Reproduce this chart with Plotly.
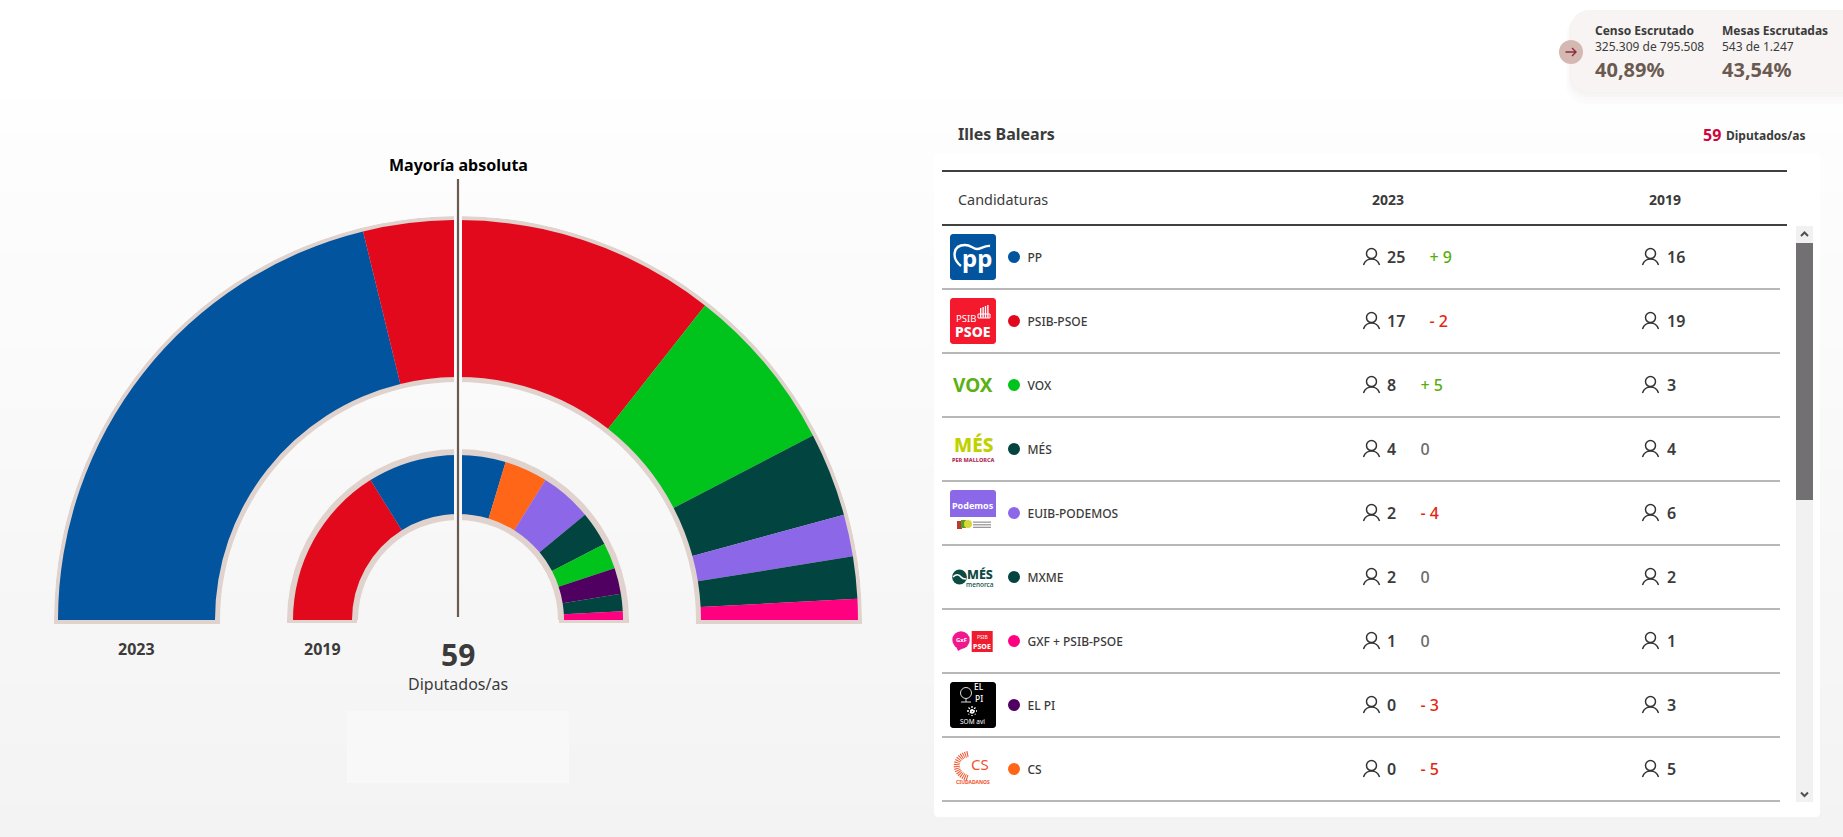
import plotly.graph_objects as go

# ---------- data ----------
CANDIDATURAS = ["PP", "PSIB-PSOE", "VOX", "MÉS", "EUIB-PODEMOS", "MXME", "GXF + PSIB-PSOE", "EL PI", "CS"]
SEATS_2023 = [25, 17, 8, 4, 2, 2, 1, 0, 0]
SEATS_2019 = [16, 19, 3, 4, 6, 2, 1, 3, 5]
PARTY_COLORS = ["#02549f", "#e2091c", "#00c31b", "#024440", "#8c68e8", "#024440", "#ff0080", "#4f0060", "#ff6618"]
ORDER_2023 = ["PP", "PSIB-PSOE", "VOX", "MÉS", "EUIB-PODEMOS", "MXME", "GXF + PSIB-PSOE"]
ORDER_2019 = ["PSIB-PSOE", "PP", "CS", "EUIB-PODEMOS", "MÉS", "VOX", "EL PI", "MXME", "GXF + PSIB-PSOE"]
TOTAL_SEATS = 59

FONT = "Noto Sans"
INK = "#3b3b3b"
W, H = 1843, 837
CX, CY = 458, 620

shapes, annotations = [], []


def bg(y):
    t = max(0.0, min(1.0, (y - 100) / (H - 100)))
    v = round(254 - t * 11)
    return f"rgb({v},{v},{v})"


def rect(x0, y0, x1, y1, fill, layer="below", line=None):
    shapes.append(dict(type="rect", xref="x", yref="y", x0=x0, y0=y0, x1=x1, y1=y1, fillcolor=fill,
                       line=line or dict(width=0), layer=layer))


def rrect_path(x0, y0, x1, y1, r):
    k = r * 0.45
    return (f"M{x0+r},{y0} L{x1-r},{y0} C{x1-k},{y0} {x1},{y0+k} {x1},{y0+r} L{x1},{y1-r} "
            f"C{x1},{y1-k} {x1-k},{y1} {x1-r},{y1} L{x0+r},{y1} C{x0+k},{y1} {x0},{y1-k} {x0},{y1-r} "
            f"L{x0},{y0+r} C{x0},{y0+k} {x0+k},{y0} {x0+r},{y0} Z")


def path(d, color=None, fill=None, width=1.5, layer="below", dash=None):
    ln = dict(color=color, width=width) if color else dict(width=0)
    if dash:
        ln["dash"] = dash
    s = dict(type="path", xref="x", yref="y", path=d, line=ln, layer=layer)
    if fill:
        s["fillcolor"] = fill
    shapes.append(s)


def circle(cx, cy, r, fill=None, color=None, width=1.5, layer="below"):
    s = dict(type="circle", xref="x", yref="y", x0=cx - r, x1=cx + r, y0=cy - r, y1=cy + r, layer=layer,
             line=dict(color=color, width=width) if color else dict(width=0))
    if fill:
        s["fillcolor"] = fill
    shapes.append(s)


def label(x, y, text, size, color=INK, weight=400, anchor="center"):
    annotations.append(dict(x=x, y=y, xref="x", yref="y", text=text, showarrow=False, xanchor=anchor,
                            yanchor="middle", borderpad=0, borderwidth=0,
                            font=dict(family=FONT, size=size, color=color, weight=weight)))


# ---------- page background ----------
for i in range(24):
    y0 = 100 + i * (H - 100) / 24
    y1 = 100 + (i + 1) * (H - 100) / 24 + 1
    rect(0, y0, W, y1, bg((y0 + y1) / 2))
rect(347, 711, 569, 783, "#f8f8f8")

# ---------- ring bases ----------
rect(CX - 404, CY, CX - 238, CY + 4, "#e0d2cd")
rect(CX + 238, CY, CX + 404, CY + 4, "#e0d2cd")
rect(CX - 171, CY, CX - 101, CY + 3, "#e0d2cd")
rect(CX + 101, CY, CX + 171, CY + 3, "#e0d2cd")

# ---------- top card ----------
for grow, alpha in [(12, 0.010), (8, 0.012), (5, 0.014), (2, 0.016)]:
    path(rrect_path(1571 - grow * 0.4, 10 + grow * 0.5, W + 40, 92 + grow, 18), fill=f"rgba(60,40,30,{alpha})")
path(rrect_path(1571, 10, W + 40, 92, 18), fill="#f8f4f3")
circle(1571, 52, 12, fill="#d5b8b2")
path("M1565.5,52 L1576,52 M1572,48 L1576,52 L1572,56", color="#8b2a40", width=1.4)
for x, head, sub, pct in [(1595, "Censo Escrutado", "325.309 de 795.508", "40,89%"),
                          (1722, "Mesas Escrutadas", "543 de 1.247", "43,54%")]:
    label(x, 30, head, 12, INK, 700, "left")
    label(x, 46.5, sub, 12, INK, 400, "left")
    label(x, 69, pct, 20, "#6b5a50", 700, "left")

# ---------- table panel ----------
path(rrect_path(934, 153, 1820, 817, 4), fill="#ffffff")
label(958, 134, "Illes Balears", 16, INK, 700, "left")
label(1703, 134.5, "59", 16, "#d0043c", 700, "left")
label(1725.5, 135, "Diputados/as", 12, INK, 700, "left")
rect(942, 170, 1787, 172, "#404040")
rect(942, 224, 1787, 226, "#404040")
label(958, 199, "Candidaturas", 14.4, INK, 400, "left")
label(1388, 199, "2023", 14, INK, 700)
label(1665, 199, "2019", 14, INK, 700)

# scrollbar
rect(1796, 226, 1813, 802, "#f1f1f1")
rect(1796, 243, 1813, 500, "#727072")
path("M1801,236 L1804.5,232.5 L1808,236", color="#505050", width=2)
path("M1801,792.5 L1804.5,796 L1808,792.5", color="#505050", width=2)

ROW_Y0, ROW_H = 257, 64
row_y = [ROW_Y0 + i * ROW_H for i in range(len(CANDIDATURAS))]
text_y = [y + 2 for y in row_y]
for y in row_y:
    rect(942, y + 31, 1780, y + 33, "#b8b8b8")


def person(x, y):
    """x = left edge of a 17 px wide icon, y = vertical centre"""
    circle(x + 8.5, y - 3.4, 5.0, color="#333333", width=1.5)
    path(f"M{x+0.5},{y+8} C{x+2},{y+3.5} {x+5},{y+2} {x+8.5},{y+2} C{x+12},{y+2} {x+15},{y+3.5} {x+16.5},{y+8}",
         color="#333333", width=1.5)


for y in row_y:
    person(1363, y)
    person(1642, y)

# ---------- logos ----------
LX0, LX1 = 950, 996
# PP
y = row_y[0]
path(rrect_path(LX0, y - 23, LX1, y + 23, 3), fill="#02549f")
path(f"M961,{y+9} C951,{y+1} 953,{y-12} 965,{y-12} C971,{y-12} 973,{y-8} 977,{y-8} C981,{y-8} 985,{y-12} 990,{y-11}",
     color="#ffffff", width=2.4)
label(977, y, "pp", 24, "#ffffff", 700)
# PSIB-PSOE
y = row_y[1]
path(rrect_path(LX0, y - 23, LX1, y + 23, 3), fill="#f5192e")
label(966, y - 3, "PSIB", 9.5, "#ffffff", 400)
label(973, y + 10, "PSOE", 14, "#ffffff", 800)
for k in range(4):
    rect(980 + k * 2.4, y - 16 + (3 - k), 981.4 + k * 2.4, y - 3, "#ffffff")
rect(978, y - 7, 990, y - 3, "rgba(0,0,0,0)", line=dict(color="#ffffff", width=1))
# VOX
y = row_y[2]
label(973, y, "VOX", 19, "#5bb114", 700)
# MÉS
y = row_y[3]
label(973, y - 4, "MÉS", 19, "#bfd200", 800)
label(973, y + 10.5, "PER MALLORCA", 5.5, "#b22a5b", 800)
# EUIB-PODEMOS
y = row_y[4]
path(f"M{LX0},{y+4} L{LX0},{y-20} C{LX0},{y-22} {LX0+1},{y-23} {LX0+3},{y-23} L{LX1-3},{y-23} "
     f"C{LX1-1},{y-23} {LX1},{y-22} {LX1},{y-20} L{LX1},{y+4} Z", fill="#8b68e8")
label(973, y - 7.5, "Podemos", 9, "#ffffff", 700)
rect(957, y + 8, 962, y + 16, "#c0392b")
rect(961, y + 7, 966, y + 15, "#5a9e2a")
circle(968, y + 11, 4, fill="#d8d83a")
for k in range(3):
    rect(973, y + 8.5 + k * 2.6, 991, y + 9.8 + k * 2.6, "#9a9a9a")
# MXME
y = row_y[5]
circle(959.5, y, 7.4, fill="#0e4a44")
path(f"M953,{y} C956,{y-3} 959,{y-3} 961,{y} C962,{y+1.5} 964,{y+2} 966,{y+2}", color="#ffffff", width=1.6)
label(980, y - 3, "MÉS", 12.5, "#0e4a44", 800)
label(980, y + 7, "menorca", 6.5, "#0e4a44", 500)
# GXF + PSIB-PSOE
y = row_y[6]
circle(961, y - 1, 8.7, fill="#f0188c")
path(f"M956,{y+5} L958,{y+10} L965,{y+6} Z", fill="#f0188c")
label(961, y - 1, "GxF", 6, "#ffffff", 700)
rect(971.7, y - 10, 992.7, y + 11, "#ee1c2e")
label(982, y - 4, "PSIB", 5, "#ffffff", 400)
label(982, y + 5.5, "PSOE", 7, "#ffffff", 800)
# EL PI
y = row_y[7]
path(rrect_path(LX0, y - 23, LX1, y + 23, 3), fill="#000000")
circle(966, y - 12, 5.5, color="#dddddd", width=1)
path(f"M966,{y-7} L966,{y-3} M961,{y-3} L971,{y-3}", color="#dddddd", width=1)
label(979, y - 18.5, "EL", 8.5, "#ffffff", 500)
label(979, y - 6.5, "PI", 8.5, "#ffffff", 500)
path(f"M972,{y+1} L972,{y+11} M967,{y+6} L977,{y+6} M968.5,{y+2.5} L975.5,{y+9.5} M975.5,{y+2.5} L968.5,{y+9.5}",
     color="#ffffff", width=1.3, dash="2px,1px")
label(972.5, y + 16, "SOM avi", 6.5, "#ffffff", 400)
# CS
y = row_y[8]
path(f"M968,{y-15} C953,{y-12} 953,{y+5} 968,{y+9}", color="#f0532b", width=6, dash="1px,1px")
label(980, y - 5, "CS", 15, "#f0532b", 400)
label(973, y + 12.5, "CIUDADANOS", 5, "#f0532b", 700)

# ---------- half-circle labels ----------
label(CX, 164.5, "Mayoría absoluta", 16, "#000000", 700)
label(136, 649, "2023", 16, INK, 700)
label(322.7, 649, "2019", 16, INK, 700)
label(CX, 654.5, str(TOTAL_SEATS), 30, INK, 700)
label(CX, 684, "Diputados/as", 16, INK, 400)

# ---------- majority line and the gap through the rings ----------
for y0, y1 in [(214, 387), (447, 523)]:
    rect(454, y0, 462, y1, bg((y0 + y1) / 2), layer="above")
shapes.append(dict(type="line", xref="x", yref="y", x0=CX, x1=CX, y0=179, y1=617,
                   line=dict(color="#6b5a50", width=2.2), layer="above"))

fig = go.Figure()


# ---------- rings ----------
def ring(order, seats, base, size, name):
    idx = [CANDIDATURAS.index(p) for p in order]
    vals = [seats[i] for i in idx]
    widths = [v / TOTAL_SEATS * 180 for v in vals]
    thetas, acc = [], 0.0
    for w_ in widths:
        thetas.append(acc + w_ / 2)
        acc += w_
    fig.add_trace(go.Barpolar(name=name, theta=thetas, width=widths, r=[size] * len(vals), base=[base] * len(vals),
                              marker=dict(color=[PARTY_COLORS[i] for i in idx], line=dict(width=0)),
                              hoverinfo="skip", showlegend=False, subplot="polar"))


fig.add_trace(go.Barpolar(theta=[90], width=[180], r=[166], base=[238], marker=dict(color="#e0d2cd", line=dict(width=0)),
                          hoverinfo="skip", showlegend=False))
fig.add_trace(go.Barpolar(theta=[90], width=[180], r=[71], base=[100], marker=dict(color="#e0d2cd", line=dict(width=0)),
                          hoverinfo="skip", showlegend=False))
ring(ORDER_2023, SEATS_2023, 243, 157, "2023")
ring(ORDER_2019, SEATS_2019, 106, 59, "2019")

# ---------- table rows ----------
fig.add_trace(go.Scatter(x=[1014] * len(row_y), y=row_y, mode="markers",
                         marker=dict(size=12, color=PARTY_COLORS, line=dict(width=0)),
                         hoverinfo="skip", showlegend=False))
fig.add_trace(go.Scatter(x=[1027.5] * len(row_y), y=text_y, mode="text", text=CANDIDATURAS, textposition="middle right",
                         textfont=dict(family=FONT, size=12, color=INK, weight=500),
                         hoverinfo="skip", showlegend=False))
fig.add_trace(go.Scatter(x=[1387] * len(row_y), y=text_y, mode="text", text=[str(v) for v in SEATS_2023],
                         textposition="middle right", textfont=dict(family=FONT, size=16, color=INK, weight=600),
                         hoverinfo="skip", showlegend=False))
fig.add_trace(go.Scatter(x=[1667] * len(row_y), y=text_y, mode="text", text=[str(v) for v in SEATS_2019],
                         textposition="middle right", textfont=dict(family=FONT, size=16, color=INK, weight=600),
                         hoverinfo="skip", showlegend=False))

deltas = [a - b for a, b in zip(SEATS_2023, SEATS_2019)]
delta_text = [f"+ {d}" if d > 0 else (f"- {-d}" if d < 0 else "0") for d in deltas]
delta_col = ["#57ad0a" if d > 0 else ("#e5260c" if d < 0 else "#6a6a6a") for d in deltas]
delta_x = [1429.5 if v >= 10 else 1420.5 for v in SEATS_2023]
fig.add_trace(go.Scatter(x=delta_x, y=text_y, mode="text", text=delta_text, textposition="middle right",
                         textfont=dict(family=FONT, size=16, color=delta_col, weight=500),
                         hoverinfo="skip", showlegend=False))

fig.update_layout(
    width=W, height=H, margin=dict(l=0, r=0, t=0, b=0, pad=0, autoexpand=False),
    paper_bgcolor="#ffffff", plot_bgcolor="rgba(0,0,0,0)", showlegend=False,
    xaxis=dict(range=[0, W], domain=[0, 1], visible=False, fixedrange=True),
    yaxis=dict(range=[H, 0], domain=[0, 1], visible=False, fixedrange=True),
    polar=dict(
        domain=dict(x=[(CX - 404) / W, (CX + 404) / W], y=[(H - CY) / H, (H - CY + 404) / H]),
        sector=[0, 180], bgcolor="rgba(0,0,0,0)", hole=0,
        radialaxis=dict(range=[0, 404], visible=False),
        angularaxis=dict(direction="clockwise", rotation=180, visible=False, thetaunit="degrees"),
    ),
    barmode="overlay",
    shapes=shapes, annotations=annotations,
    font=dict(family=FONT),
)

fig.write_html("out.html", config={"displayModeBar": False},
               post_script="document.body.style.margin='0';document.body.style.overflow='hidden';")
